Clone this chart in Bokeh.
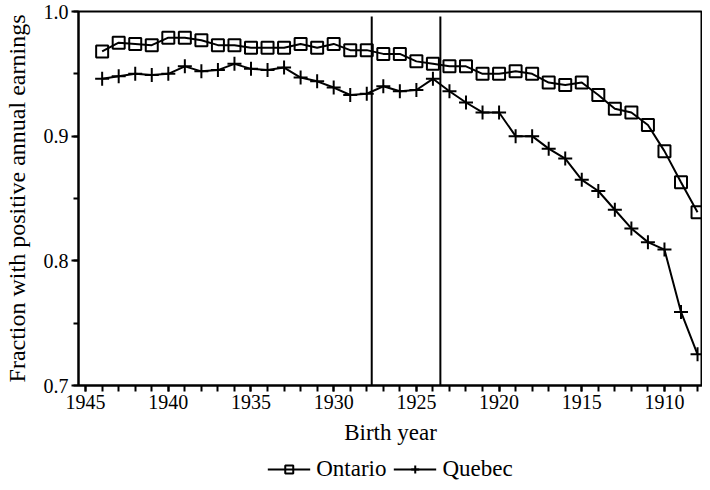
from bokeh.plotting import figure
from bokeh.layouts import column
from bokeh.models import (Range1d, SingleIntervalTicker, PrintfTickFormatter,
                          Legend, LegendItem, ColumnDataSource)
from bokeh.embed import file_html
from bokeh.resources import INLINE

# ---- data ----
years = [1944, 1943, 1942, 1941, 1940, 1939, 1938, 1937, 1936, 1935, 1934, 1933,
         1932, 1931, 1930, 1929, 1928, 1927, 1926, 1925, 1924, 1923, 1922, 1921,
         1920, 1919, 1918, 1917, 1916, 1915, 1914, 1913, 1912, 1911, 1910, 1909, 1908]
ontario = [0.968, 0.975, 0.974, 0.973, 0.979, 0.979, 0.977, 0.973, 0.973, 0.971,
           0.971, 0.971, 0.974, 0.971, 0.974, 0.969, 0.969, 0.966, 0.966, 0.960,
           0.958, 0.956, 0.956, 0.950, 0.950, 0.952, 0.950, 0.943, 0.941, 0.943,
           0.933, 0.922, 0.919, 0.909, 0.888, 0.863, 0.839]
quebec = [0.946, 0.948, 0.950, 0.949, 0.950, 0.956, 0.952, 0.953, 0.958, 0.954,
          0.953, 0.955, 0.947, 0.944, 0.939, 0.933, 0.934, 0.940, 0.936, 0.937,
          0.946, 0.936, 0.927, 0.919, 0.919, 0.900, 0.900, 0.890, 0.882, 0.865,
          0.856, 0.841, 0.826, 0.815, 0.809, 0.759, 0.725]
vline_years = [1927.7, 1923.55]
vline_bottom = [0.7, 0.7]
vline_top = [0.996, 0.996]
series_labels = ["Ontario", "Quebec"]

FONT = "Liberation Serif"

p = figure(width=702, height=455, output_backend="svg", toolbar_location=None,
           x_range=Range1d(1945.43, 1907.7), y_range=Range1d(0.7, 1.0),
           min_border_left=75, min_border_top=11, min_border_right=0,
           min_border_bottom=70)
p.background_fill_color = "white"
p.border_fill_color = "white"
p.grid.visible = False
p.outline_line_color = "black"
p.outline_line_width = 2

src = ColumnDataSource(dict(year=years, ont=ontario, que=quebec))

line_kw = dict(line_color="black", line_width=2)
ont_mk = dict(marker="square", size=12, fill_color=None, line_color="black", line_width=2)
que_mk = dict(marker="cross", size=14, line_color="black", line_width=2)

p.line("year", "ont", source=src, **line_kw)
p.scatter("year", "ont", source=src, **ont_mk)
p.line("year", "que", source=src, **line_kw)
p.scatter("year", "que", source=src, **que_mk)

p.segment(x0=vline_years, y0=vline_bottom, x1=vline_years, y1=vline_top,
          line_color="black", line_width=2)

# x axis
xa = p.xaxis[0]
xa.ticker = SingleIntervalTicker(interval=5, num_minor_ticks=5)
xa.axis_label = "Birth year"
xa.axis_line_width = 2
xa.major_tick_in = 0
xa.major_tick_out = 6
xa.minor_tick_in = 0
xa.minor_tick_out = 6
xa.major_tick_line_width = 2
xa.minor_tick_line_width = 2
xa.major_label_standoff = 3
xa.axis_label_standoff = 8

# y axis
ya = p.yaxis[0]
ya.ticker = SingleIntervalTicker(interval=0.1, num_minor_ticks=2)
ya.formatter = PrintfTickFormatter(format="%.1f")
ya.axis_label = "Fraction with positive annual earnings"
ya.axis_line_width = 2
ya.major_tick_in = 0
ya.major_tick_out = 7
ya.minor_tick_in = 0
ya.minor_tick_out = 5
ya.major_tick_line_width = 2
ya.minor_tick_line_width = 2
ya.major_label_standoff = 3
ya.axis_label_standoff = 11

for ax in (xa, ya):
    ax.axis_line_color = "black"
    ax.major_tick_line_color = "black"
    ax.minor_tick_line_color = "black"
    ax.major_label_text_font = FONT
    ax.major_label_text_font_size = "20px"
    ax.major_label_text_color = "black"
    ax.axis_label_text_font = FONT
    ax.axis_label_text_font_style = "normal"
    ax.axis_label_text_color = "black"
xa.axis_label_text_font_size = "23px"
ya.axis_label_text_font_size = "24px"

# ---- legend strip below the chart (real series, kept out of view) ----
lf = figure(width=702, height=27, output_backend="svg", toolbar_location=None,
            x_range=Range1d(0, 1), y_range=Range1d(0, 1),
            min_border_left=75, min_border_right=0, min_border_top=0,
            min_border_bottom=0)
lf.axis.visible = False
lf.grid.visible = False
lf.outline_line_color = None
lf.border_fill_color = "white"
lf.background_fill_color = "white"
r1 = [lf.line("year", "ont", source=src, **line_kw),
      lf.scatter("year", "ont", source=src, **ont_mk)]
r2 = [lf.line("year", "que", source=src, **line_kw),
      lf.scatter("year", "que", source=src, **que_mk)]

legend = Legend(items=[LegendItem(label=series_labels[0], renderers=r1),
                       LegendItem(label=series_labels[1], renderers=r2)],
                orientation="horizontal", location="center",
                label_text_font=FONT, label_text_font_size="23px",
                label_text_color="black", glyph_width=43, glyph_height=20,
                label_standoff=6, spacing=7, padding=0, margin=0,
                border_line_color=None, background_fill_alpha=0)
lf.add_layout(legend, "center")

layout = column(p, lf, spacing=0)
open("out.html", "w").write(file_html(layout, INLINE))
